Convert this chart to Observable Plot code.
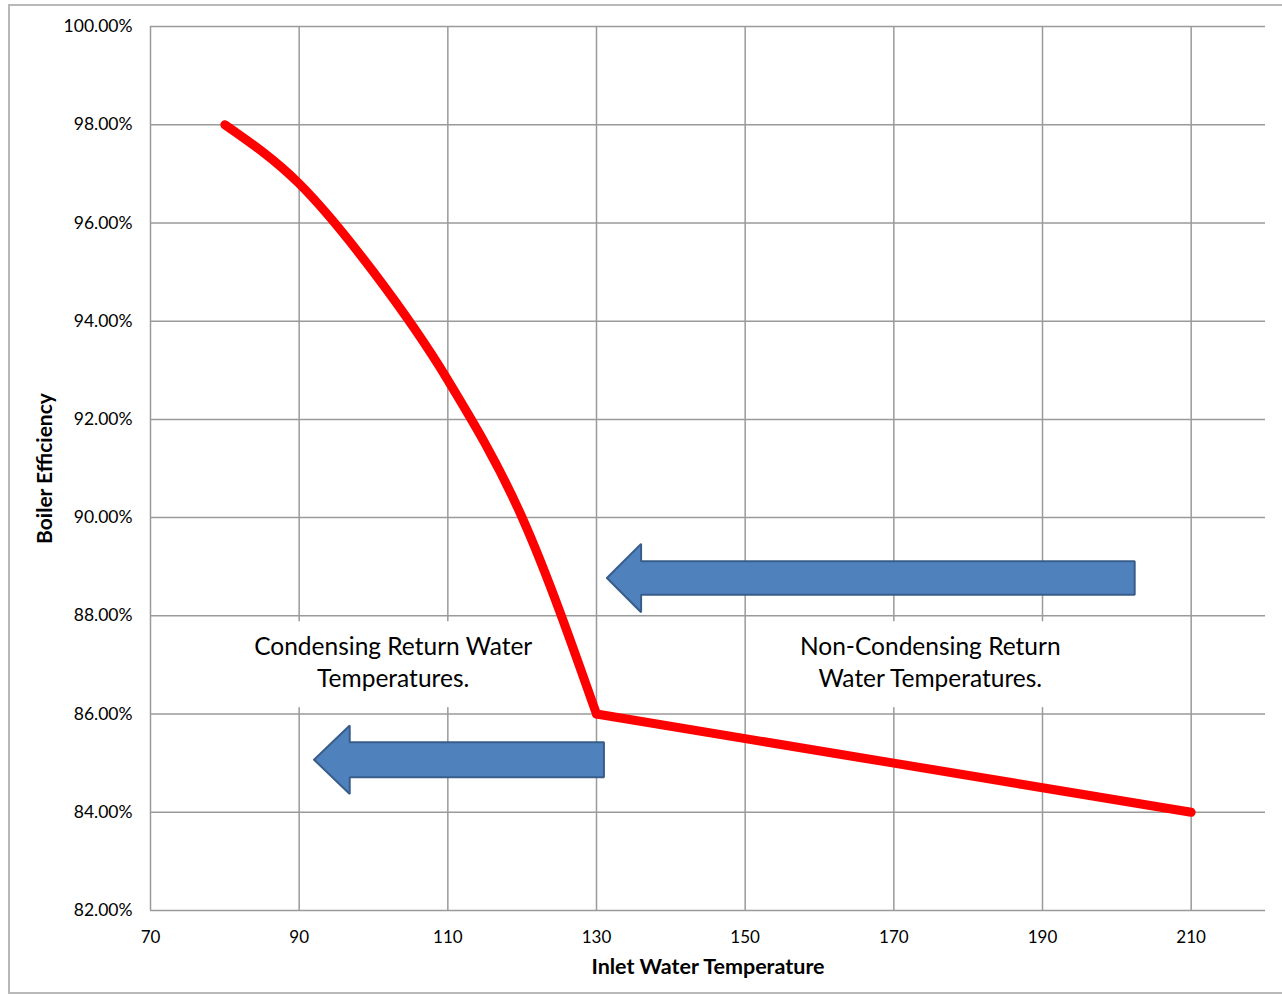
<!DOCTYPE html>
<html><head><meta charset="utf-8">
<script src="https://cdn.jsdelivr.net/npm/d3@7"></script>
<script src="https://cdn.jsdelivr.net/npm/@observablehq/plot@0.6"></script>
<style>
body{margin:0;background:#fff;}
#wrap{position:relative;width:1282px;height:996px;overflow:hidden;}
#frame{position:absolute;left:8px;top:4px;width:1290px;height:990px;border:2px solid #b8b8b8;box-sizing:border-box;}
#chart{position:absolute;left:0;top:0;}
</style></head><body>
<div id="wrap"><div id="frame"></div><div id="chart"></div></div>
<script>
// Series: smooth condensing part and linear non-condensing part
const condTemp = [80, 90, 100, 110, 120, 130];
const condEff  = [98.0, 96.8, 95.0, 92.8, 90.0, 86.0];
const nonTemp  = [130, 150, 170, 190, 210];
const nonEff   = [86.0, 85.5, 85.0, 84.5, 84.0];

// Tick values
const xTicks = [70, 90, 110, 130, 150, 170, 190, 210];
const yTicks = [82, 84, 86, 88, 90, 92, 94, 96, 98, 100];

// Annotation notes (data units)
const noteText = ["Condensing Return Water\nTemperatures.", "Non-Condensing Return\nWater Temperatures."];
const noteX = [102.65, 174.9];
const noteY = [87.09, 87.09];
const noteBoxX1 = [82.1, 156.0];
const noteBoxX2 = [123.7, 194.3];
const noteBoxY1 = [86.13, 86.13];
const noteBoxY2 = [87.88, 87.88];

// Block arrows (data units)
const arrowTipX   = [131.4, 92.0];
const arrowHeadX  = [136.0, 96.8];
const arrowTailX  = [202.4, 131.0];
const arrowCY     = [88.77, 85.07];
const arrowBodyH  = [0.342, 0.357];
const arrowHeadH  = [0.696, 0.696];

const curveData = condTemp.map((t, i) => ({t, e: condEff[i]}));
const lineData = nonTemp.map((t, i) => ({t, e: nonEff[i]}));
const notes = noteText.map((s, i) => ({s, x: noteX[i], y: noteY[i], x1: noteBoxX1[i], x2: noteBoxX2[i], y1: noteBoxY1[i], y2: noteBoxY2[i]}));
const arrowPts = [];
arrowTipX.forEach((tip, i) => {
  const c = arrowCY[i], b = arrowBodyH[i], h = arrowHeadH[i], hx = arrowHeadX[i], tl = arrowTailX[i];
  const poly = [[tip, c], [hx, c + h], [hx, c + b], [tl, c + b], [tl, c - b], [hx, c - b], [hx, c - h], [tip, c]];
  poly.forEach(([x, y]) => arrowPts.push({id: i, x, y}));
});

const font = "Lato, 'Open Sans', sans-serif";
const chart = Plot.plot({
  width: 1282,
  height: 996,
  marginLeft: 150,
  marginRight: 17,
  marginTop: 26,
  marginBottom: 86,
  style: {fontFamily: font, fontSize: "17px", color: "#000", background: "transparent"},
  x: {domain: [70, 220]},
  y: {domain: [82, 100]},
  marks: [
    Plot.gridX(xTicks, {stroke: "#9a9a9a", strokeOpacity: 1, strokeWidth: 1.5}),
    Plot.gridY(yTicks, {stroke: "#9a9a9a", strokeOpacity: 1, strokeWidth: 1.5}),
    Plot.axisX(xTicks, {tickSize: 0, tickPadding: 20, label: null, fontSize: 17, tickFormat: d => String(d)}),
    Plot.axisY(yTicks, {tickSize: 0, tickPadding: 18, label: null, fontSize: 17.5, tickFormat: d => d.toFixed(2) + "%"}),
    Plot.rect(notes, {x1: "x1", x2: "x2", y1: "y1", y2: "y2", fill: "white"}),
    Plot.text(notes, {x: "x", y: "y", text: "s", fontSize: 24.5, lineHeight: 1.31, lineAnchor: "middle", textAnchor: "middle", fill: "#000"}),
    Plot.line(arrowPts, {x: "x", y: "y", z: "id", fill: "#4f81bd", stroke: "#385d8a", strokeWidth: 2, strokeLinejoin: "miter", curve: "linear"}),
    Plot.line(curveData, {x: "t", y: "e", stroke: "#ff0000", strokeWidth: 9, curve: "monotone-x", strokeLinecap: "round", strokeLinejoin: "round"}),
    Plot.line(lineData, {x: "t", y: "e", stroke: "#ff0000", strokeWidth: 9, curve: "linear", strokeLinecap: "round", strokeLinejoin: "round"}),
    Plot.text(["Inlet Water Temperature"], {frameAnchor: "bottom", dy: 63, fontSize: 21.5, fontWeight: "bold", fill: "#000"}),
    Plot.text(["Boiler Efficiency"], {frameAnchor: "left", dx: -105, rotate: -90, textAnchor: "middle", fontSize: 21, fontWeight: "bold", fill: "#000"})
  ]
});
document.getElementById("chart").appendChild(chart);
</script>
</body></html>
